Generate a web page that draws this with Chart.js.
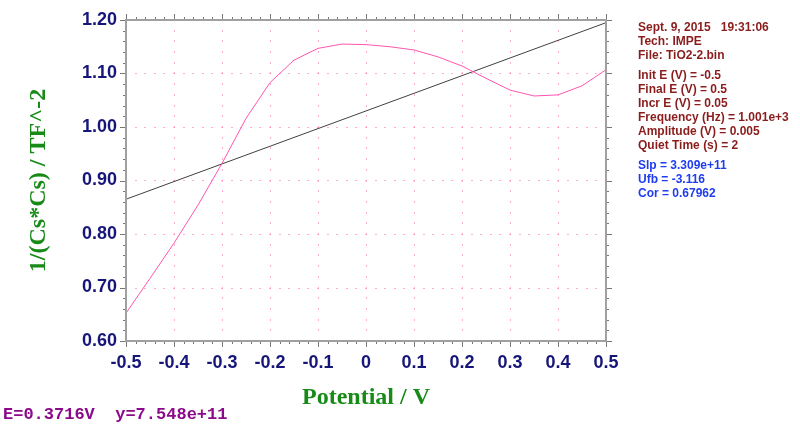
<!DOCTYPE html>
<html lang="en">
<head>
  <meta charset="UTF-8">
  <title>Mott-Schottky TiO2-2</title>
  <style>
    * { margin: 0; padding: 0; box-sizing: border-box; }
    body { background: #fff; width: 800px; height: 429px; overflow: hidden; position: relative; font-family: "Liberation Sans", Arial, sans-serif; }
    #chart { position: absolute; left: 0; top: 0; }
    #info { position: absolute; left: 638px; top: 20px; font-size: 12px; font-weight: bold; line-height: 14px; color: #8a1c1c; }
    #info div { white-space: pre; }
    #info .gap { height: 6px; }
    #info .fit { color: #1f3cf0; }
    #status { position: absolute; left: 3px; top: 405px; font-family: "Liberation Mono", "Courier New", monospace; font-weight: bold; font-size: 17px; color: #8b0a8b; white-space: pre; }
  </style>
  <script src="https://cdn.jsdelivr.net/npm/chart.js"></script>
</head>
<body>
  <canvas id="chart" width="800" height="429"></canvas>
  <div id="info"><div>Sept. 9, 2015   19:31:06</div><div>Tech: IMPE</div><div>File: TiO2-2.bin</div><div class="gap"></div><div>Init E (V) = -0.5</div><div>Final E (V) = 0.5</div><div>Incr E (V) = 0.05</div><div>Frequency (Hz) = 1.001e+3</div><div>Amplitude (V) = 0.005</div><div>Quiet Time (s) = 2</div><div class="gap"></div><div class="fit">Slp = 3.309e+11</div><div class="fit">Ufb = -3.116</div><div class="fit">Cor = 0.67962</div></div>
  <div id="status">E=0.3716V  y=7.548e+11</div>

  <script>
    // measured data (potential in V, 1/Cs^2 in TF^-2)
    const potential = [-0.5, -0.45, -0.4, -0.35, -0.3, -0.25, -0.2, -0.15, -0.1, -0.05, 0,
                       0.05, 0.1, 0.15, 0.2, 0.25, 0.3, 0.35, 0.4, 0.45, 0.5];
    const invCs2 = [0.652, 0.717, 0.783, 0.854, 0.932, 1.016, 1.083, 1.125, 1.147, 1.155, 1.154,
                    1.150, 1.144, 1.131, 1.114, 1.091, 1.069, 1.058, 1.060, 1.077, 1.107];

    // linear fit line
    const fitPotential = [-0.5, 0.5];
    const fitValues = [0.865, 1.195];

    // axis ticks
    const xMajor = [-0.5, -0.4, -0.3, -0.2, -0.1, 0, 0.1, 0.2, 0.3, 0.4, 0.5];
    const yMajor = [0.6, 0.7, 0.8, 0.9, 1.0, 1.1, 1.2];
    const xMinorStep = 0.02;
    const yMinorStep = 0.02;

    const navy = '#16167a';
    const green = '#178a17';

    function minorValues(min, max, step) {
      const out = [];
      const n = Math.round((max - min) / step);
      for (let i = 0; i <= n; i++) out.push(min + i * step);
      return out;
    }

    // dotted grid, frame and tick marks drawn from the scales
    const framePlugin = {
      id: 'frame',
      beforeDatasetsDraw(chart) {
        const { ctx, chartArea: a, scales: { x, y } } = chart;
        ctx.save();
        ctx.fillStyle = 'rgba(255, 110, 180, 0.55)';
        const xm = minorValues(-0.5, 0.5, xMinorStep);
        const ym = minorValues(0.6, 1.2, yMinorStep);
        xMajor.forEach(v => {
          const px = Math.round(x.getPixelForValue(v));
          if (px <= a.left + 1 || px >= a.right - 1) return;
          ym.forEach(w => {
            const py = Math.round(y.getPixelForValue(w));
            if (py > a.top + 1 && py < a.bottom - 1) ctx.fillRect(px, py - 1, 1, 2);
          });
        });
        yMajor.forEach(w => {
          const py = Math.round(y.getPixelForValue(w));
          if (py <= a.top + 1 || py >= a.bottom - 1) return;
          xm.forEach(v => {
            const px = Math.round(x.getPixelForValue(v));
            if (px > a.left + 1 && px < a.right - 1) ctx.fillRect(px - 1, py, 2, 1);
          });
        });
        ctx.restore();
      },
      afterDraw(chart) {
        const { ctx, chartArea: a, scales: { x, y } } = chart;
        ctx.save();
        ctx.strokeStyle = '#777';
        ctx.lineWidth = 1;
        ctx.beginPath();
        minorValues(-0.5, 0.5, xMinorStep).forEach((v, i) => {
          const px = Math.round(x.getPixelForValue(v)) + 0.5;
          const len = i % 5 === 0 ? 6 : 3;
          ctx.moveTo(px, a.bottom); ctx.lineTo(px, a.bottom + len);
          ctx.moveTo(px, a.top); ctx.lineTo(px, a.top - len);
        });
        minorValues(0.6, 1.2, yMinorStep).forEach((v, i) => {
          const py = Math.round(y.getPixelForValue(v)) + 0.5;
          const len = i % 5 === 0 ? 6 : 3;
          ctx.moveTo(a.left, py); ctx.lineTo(a.left - len, py);
          ctx.moveTo(a.right, py); ctx.lineTo(a.right + len, py);
        });
        ctx.stroke();
        ctx.strokeStyle = '#a0a0a0';
        ctx.lineWidth = 2;
        ctx.strokeRect(a.left, a.top, a.right - a.left, a.bottom - a.top);
        ctx.restore();
      }
    };

    new Chart(document.getElementById('chart').getContext('2d'), {
      type: 'scatter',
      data: {
        datasets: [
          {
            label: '1/Cs^2',
            data: potential.map((p, i) => ({ x: p, y: invCs2[i] })),
            showLine: true,
            borderColor: '#ff55b0',
            borderWidth: 1,
            pointRadius: 0,
            tension: 0
          },
          {
            label: 'fit',
            data: fitPotential.map((p, i) => ({ x: p, y: fitValues[i] })),
            showLine: true,
            borderColor: '#404040',
            borderWidth: 1,
            pointRadius: 0
          }
        ]
      },
      options: {
        responsive: false,
        animation: false,
        devicePixelRatio: 1,
        layout: { padding: { top: 20, right: 194, left: 0, bottom: 0 } },
        plugins: { legend: { display: false }, tooltip: { enabled: false } },
        scales: {
          x: {
            type: 'linear',
            min: -0.5,
            max: 0.5,
            grid: { display: false, drawTicks: false },
            border: { display: false },
            afterBuildTicks(scale) { scale.ticks = xMajor.map(v => ({ value: v })); },
            afterFit(scale) { scale.height = 88; },
            ticks: {
              padding: 11,
              color: navy,
              font: { family: '"Liberation Sans", Arial', size: 18, weight: 'bold' },
              callback: v => (Math.abs(v) < 1e-9 ? '0' : String(Math.round(v * 10) / 10))
            },
            title: {
              display: true,
              text: 'Potential / V',
              color: green,
              padding: { top: 0, bottom: 17 },
              font: { family: '"Liberation Serif", "Times New Roman"', size: 24, weight: 'bold' }
            }
          },
          y: {
            type: 'linear',
            min: 0.6,
            max: 1.2,
            grid: { display: false, drawTicks: false },
            border: { display: false },
            afterBuildTicks(scale) { scale.ticks = yMajor.map(v => ({ value: v })); },
            afterFit(scale) { scale.width = 126; },
            ticks: {
              padding: 9,
              color: navy,
              font: { family: '"Liberation Sans", Arial', size: 18, weight: 'bold' },
              callback: v => v.toFixed(2)
            },
            title: {
              display: true,
              text: '1/(Cs*Cs) / TF^-2',
              color: green,
              padding: { top: 24, bottom: 0 },
              font: { family: '"Liberation Serif", "Times New Roman"', size: 24, weight: 'bold' }
            }
          }
        }
      },
      plugins: [framePlugin]
    });
  </script>
</body>
</html>
